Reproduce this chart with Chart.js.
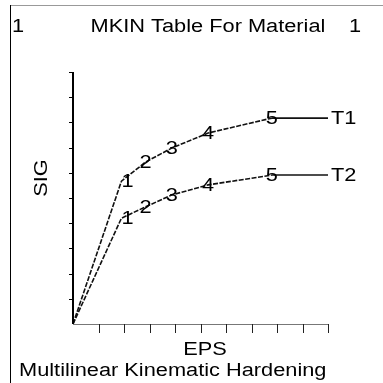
<!DOCTYPE html>
<html>
<head>
<meta charset="utf-8">
<script src="https://cdn.jsdelivr.net/npm/chart.js@4.4.1/dist/chart.umd.min.js"></script>
<style>
  html, body { margin: 0; padding: 0; background: #fff; }
  #wrap { width: 383px; height: 383px; }
</style>
</head>
<body>
<div id="wrap"><canvas id="chart" width="383" height="383"></canvas></div>
<script>
// MKIN table data (no tick labels on the original, axes run 0..10)
const eps = [0, 1.9, 2.85, 3.87, 5.3, 7.8, 10];
const sigT1 = [0, 5.67, 6.43, 6.98, 7.58, 8.17, 8.17];
const sigT2 = [0, 4.2, 4.65, 5.12, 5.52, 5.91, 5.91];
const curveNames = ['T1', 'T2'];
const pointLabels = ['', '1', '2', '3', '4', '5', ''];
const axisTicks = [1, 2, 3, 4, 5, 6, 7, 8, 9, 10];

const FONT = '18px "Liberation Sans", Arial, sans-serif';
const STRETCH = 1.21; // the original font is wider than Arial

function toPoints(ys) {
  return eps.map((x, i) => ({ x: x, y: ys[i] }));
}

function wideText(ctx, text, x, y, align, baseline, angle) {
  ctx.save();
  ctx.translate(x, y);
  if (angle) ctx.rotate(angle);
  ctx.scale(STRETCH, 1);
  ctx.textAlign = align || 'left';
  ctx.textBaseline = baseline || 'alphabetic';
  ctx.fillText(text, 0, 0);
  ctx.restore();
}

// dashed up to point 5, solid after it
const segStyle = {
  borderDash: ctx => (ctx.p0DataIndex >= 5 ? [] : [5, 1.5])
};

const ansysDecor = {
  id: 'ansysDecor',
  afterDraw(chart) {
    const { ctx, scales } = chart;
    const xs = scales.x, ys = scales.y;
    const x0 = xs.getPixelForValue(0), y0 = ys.getPixelForValue(0);
    ctx.save();

    // frame
    ctx.lineWidth = 1;
    ctx.strokeStyle = '#999';
    ctx.beginPath();
    ctx.moveTo(10, 5.5); ctx.lineTo(383, 5.5);
    ctx.stroke();
    ctx.strokeStyle = '#000';
    ctx.beginPath();
    ctx.moveTo(10.5, 383); ctx.lineTo(10.5, 5);
    ctx.stroke();

    // y axis + ticks
    ctx.lineWidth = 2;
    ctx.beginPath();
    ctx.moveTo(x0, y0); ctx.lineTo(x0, ys.getPixelForValue(10));
    ctx.stroke();
    ctx.lineWidth = 1;
    axisTicks.forEach(v => {
      const py = Math.round(ys.getPixelForValue(v)) + 0.5;
      ctx.beginPath(); ctx.moveTo(x0 - 4, py); ctx.lineTo(x0, py); ctx.stroke();
    });

    // x axis + ticks
    ctx.strokeStyle = '#777';
    ctx.beginPath();
    ctx.moveTo(x0, y0 + 0.5); ctx.lineTo(xs.getPixelForValue(10), y0 + 0.5);
    ctx.stroke();
    ctx.strokeStyle = '#222';
    axisTicks.forEach(v => {
      const px = Math.round(xs.getPixelForValue(v)) + 0.5;
      ctx.beginPath(); ctx.moveTo(px, y0); ctx.lineTo(px, y0 + 9); ctx.stroke();
    });

    // texts
    ctx.fillStyle = '#000';
    ctx.font = FONT;
    wideText(ctx, '1', 12, 32);
    wideText(ctx, '1', 349, 32);
    wideText(ctx, 'MKIN Table For Material', 208, 32, 'center');
    wideText(ctx, 'EPS', 205, 355, 'center');
    wideText(ctx, 'Multilinear Kinematic Hardening', 19, 376);
    wideText(ctx, 'SIG', 47, 178, 'center', 'alphabetic', -Math.PI / 2);

    // point numbers and curve names
    chart.data.datasets.forEach((ds, di) => {
      const meta = chart.getDatasetMeta(di);
      meta.data.forEach((pt, i) => {
        const lbl = pointLabels[i];
        if (!lbl) return;
        const dx = i === 1 ? 6 : 0;
        wideText(ctx, lbl, pt.x + dx, pt.y + 1, 'center', 'middle');
      });
      const last = meta.data[meta.data.length - 1];
      wideText(ctx, curveNames[di], last.x + 3, last.y + 1, 'left', 'middle');
    });

    ctx.restore();
  }
};

const chart = new Chart(document.getElementById('chart'), {
  type: 'line',
  data: {
    datasets: [
      { label: curveNames[0], data: toPoints(sigT1), segment: segStyle },
      { label: curveNames[1], data: toPoints(sigT2), segment: segStyle }
    ]
  },
  options: {
    responsive: false,
    animation: false,
    events: [],
    layout: { padding: { left: 73, right: 55, top: 72, bottom: 59 } },
    elements: {
      line: { borderColor: '#111', borderWidth: 1.6, tension: 0 },
      point: { radius: 0 }
    },
    scales: {
      x: { type: 'linear', min: 0, max: 10, display: false },
      y: { type: 'linear', min: 0, max: 10, display: false }
    },
    plugins: { legend: { display: false }, tooltip: { enabled: false } }
  },
  plugins: [ansysDecor]
});
</script>
</body>
</html>
